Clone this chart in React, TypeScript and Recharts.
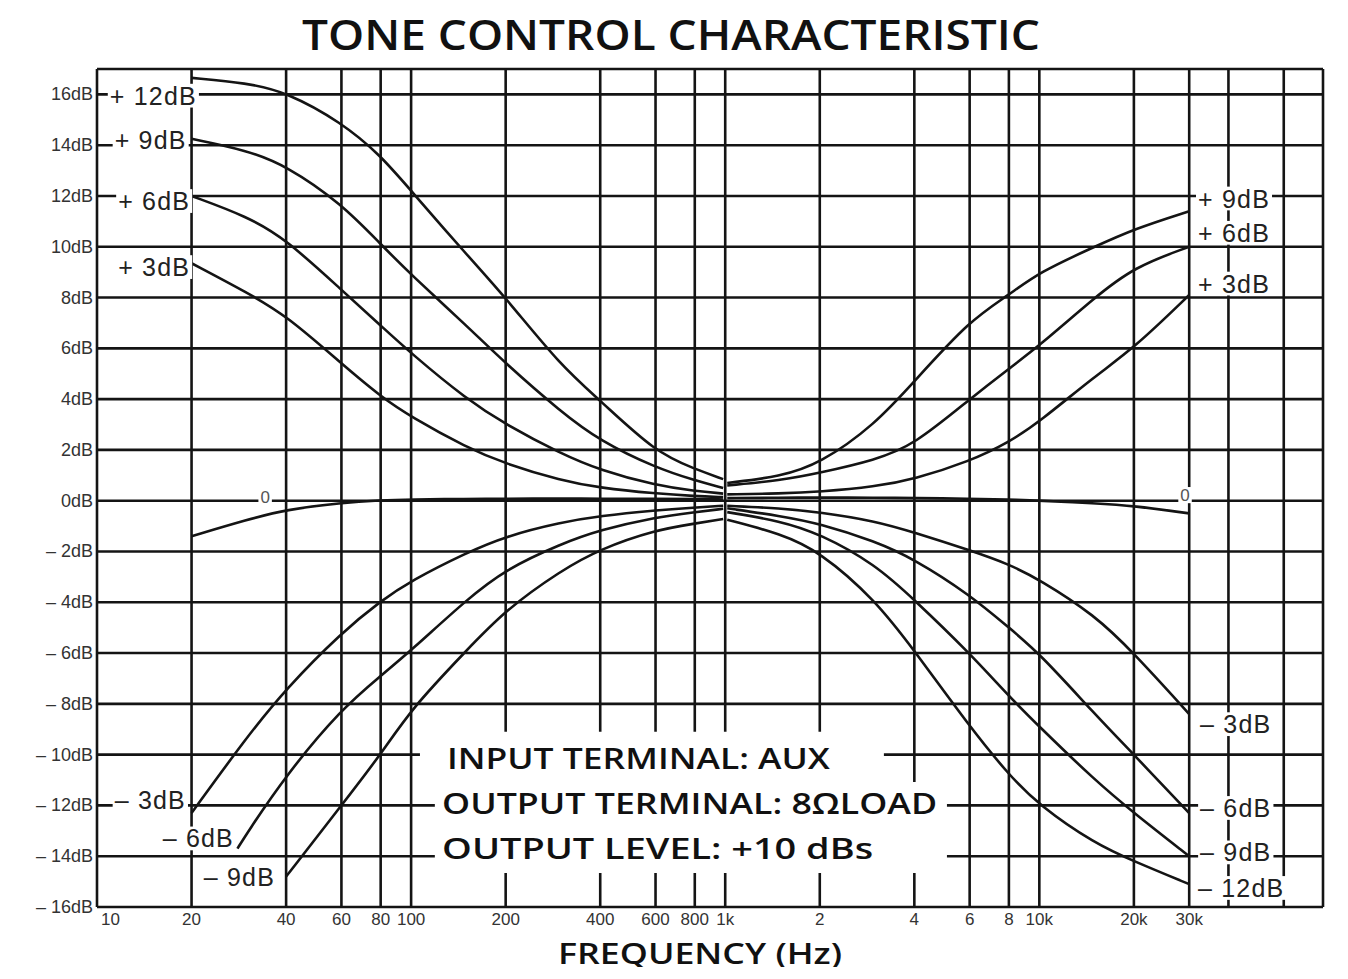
import {
  LineChart,
  Line,
  XAxis,
  YAxis,
  CartesianGrid,
  ReferenceArea,
  ReferenceDot,
} from "recharts";

// axis ticks (log frequency, dB)
const xTicks = [
  10, 20, 40, 60, 80, 100, 200, 400, 600, 800, 1000, 2000, 4000, 6000, 8000,
  10000, 20000, 30000, 40000, 60000, 80000,
];
const xTickLabels = [
  "10", "20", "40", "60", "80", "100", "200", "400", "600", "800", "1k",
  "2", "4", "6", "8", "10k", "20k", "30k", "", "", "",
];
const yTicks = [-16, -14, -12, -10, -8, -6, -4, -2, 0, 2, 4, 6, 8, 10, 12, 14, 16, 17];
const yTickLabels = [
  "– 16dB", "– 14dB", "– 12dB", "– 10dB", "– 8dB", "– 6dB", "– 4dB", "– 2dB",
  "0dB", "2dB", "4dB", "6dB", "8dB", "10dB", "12dB", "14dB", "16dB", "",
];

// bass control curves (20 Hz .. 1 kHz)
const bassFreq = [20, 30, 40, 60, 80, 100, 150, 200, 300, 400, 600, 800, 985];
const bassPlus12 = [16.65, 16.45, 16.1, 14.9, 13.6, 12.2, 9.7, 8.0, 5.3, 3.95, 1.9, 1.25, 0.85];
const bassPlus9 = [14.25, 13.8, 13.2, 11.7, 10.1, 8.9, 6.9, 5.4, 3.5, 2.35, 1.3, 0.8, 0.5];
const bassPlus6 = [12.0, 11.2, 10.3, 8.3, 6.9, 5.8, 4.0, 3.0, 1.85, 1.2, 0.6, 0.38, 0.28];
const bassPlus3 = [9.35, 8.2, 7.3, 5.4, 4.1, 3.3, 2.1, 1.45, 0.8, 0.5, 0.28, 0.18, 0.14];
const bassFlat = [-1.4, -0.75, -0.35, -0.08, 0.02, 0.05, 0.07, 0.08, 0.08, 0.08, 0.07, 0.06, 0.05];
const bassMinus3 = [-12.3, -9.3, -7.4, -5.2, -3.95, -3.15, -2.05, -1.4, -0.85, -0.6, -0.38, -0.27, -0.2];
const bassMinus6Freq = [28, 30, 40, 60, 80, 100, 150, 200, 300, 400, 600, 800, 985];
const bassMinus6 = [-13.7, -13.1, -10.8, -8.2, -6.9, -5.9, -3.9, -2.7, -1.7, -1.15, -0.65, -0.45, -0.32];
const bassMinus9Freq = [40, 60, 80, 100, 150, 200, 300, 400, 600, 800, 985];
const bassMinus9 = [-14.8, -12.0, -10.0, -8.2, -5.9, -4.3, -2.75, -1.9, -1.15, -0.9, -0.72];

// treble control curves (1 kHz .. 30 kHz)
const trebleFreq = [1015, 1500, 2000, 3000, 4000, 6000, 8000, 10000, 15000, 20000, 30000];
const treblePlus9 = [0.7, 0.95, 1.45, 3.0, 4.7, 7.1, 8.1, 9.0, 10.0, 10.7, 11.4];
const treblePlus6 = [0.6, 0.8, 1.1, 1.6, 2.2, 4.0, 5.2, 6.1, 8.0, 9.2, 10.0];
const treblePlus3 = [0.25, 0.28, 0.35, 0.55, 0.85, 1.55, 2.3, 3.1, 4.9, 6.0, 8.1];
const trebleFlat = [0.1, 0.12, 0.12, 0.12, 0.1, 0.08, 0.05, 0.0, -0.1, -0.2, -0.5];
const trebleMinus3 = [-0.2, -0.3, -0.45, -0.8, -1.25, -1.95, -2.5, -3.1, -4.5, -6.0, -8.4];
const trebleMinus6 = [-0.3, -0.6, -0.9, -1.6, -2.3, -3.7, -5.0, -6.0, -8.4, -10.0, -12.3];
const trebleMinus9 = [-0.45, -0.8, -1.3, -2.5, -3.9, -6.0, -7.7, -8.9, -11.0, -12.3, -14.0];
const trebleMinus12 = [-0.75, -1.3, -2.0, -3.9, -5.9, -8.9, -10.8, -12.0, -13.5, -14.2, -15.1];

const pts = (fs: number[], vs: number[]) => fs.map((f, i) => ({ f, db: vs[i] }));

const curves = [
  pts(bassFreq, bassPlus12),
  pts(bassFreq, bassPlus9),
  pts(bassFreq, bassPlus6),
  pts(bassFreq, bassPlus3),
  pts(bassFreq, bassFlat),
  pts(bassFreq, bassMinus3),
  pts(bassMinus6Freq, bassMinus6),
  pts(bassMinus9Freq, bassMinus9),
  pts(trebleFreq, treblePlus9),
  pts(trebleFreq, treblePlus6),
  pts(trebleFreq, treblePlus3),
  pts(trebleFreq, trebleFlat),
  pts(trebleFreq, trebleMinus3),
  pts(trebleFreq, trebleMinus6),
  pts(trebleFreq, trebleMinus9),
  pts(trebleFreq, trebleMinus12),
];

// curve names, anchored in data units next to the curve ends
const curveTags = [
  { text: "+ 12dB", f: 20.8, db: 15.95, anchor: "end" },
  { text: "+ 9dB", f: 19.3, db: 14.2, anchor: "end" },
  { text: "+ 6dB", f: 19.8, db: 11.8, anchor: "end" },
  { text: "+ 3dB", f: 19.8, db: 9.2, anchor: "end" },
  { text: "– 3dB", f: 19.2, db: -11.8, anchor: "end" },
  { text: "– 6dB", f: 27.3, db: -13.3, anchor: "end" },
  { text: "– 9dB", f: 36.9, db: -14.8, anchor: "end" },
  { text: "+ 9dB", f: 32000, db: 11.9, anchor: "start" },
  { text: "+ 6dB", f: 32000, db: 10.55, anchor: "start" },
  { text: "+ 3dB", f: 32000, db: 8.55, anchor: "start" },
  { text: "– 3dB", f: 32500, db: -8.8, anchor: "start" },
  { text: "– 6dB", f: 32500, db: -12.1, anchor: "start" },
  { text: "– 9dB", f: 32500, db: -13.85, anchor: "start" },
  { text: "– 12dB", f: 32000, db: -15.25, anchor: "start" },
];
const zeroTags = [
  { text: "0", f: 34.3, db: 0.15 },
  { text: "0", f: 29100, db: 0.22 },
];
const notes = [
  { text: "INPUT  TERMINAL:  AUX", f: 130, db: -10.15, len: 383 },
  { text: "OUTPUT  TERMINAL:  8ΩLOAD", f: 125.5, db: -11.95, len: 495 },
  { text: "OUTPUT  LEVEL:  +10  dBs", f: 125.5, db: -13.72, len: 431 },
];

const FONT = "'Liberation Sans', Arial, sans-serif";
const HEAD_FONT = "'Open Sans', 'Liberation Sans', sans-serif";
const INK = "#141414";

// rough advance widths (em) of Liberation Sans, for the blank behind a tag
const glyphW: Record<string, number> = { "+": 0.584, " ": 0.278, "–": 0.556, B: 0.667 };
const textWidth = (t: string, size: number, spacing: number) =>
  [...t].reduce((s, c) => s + (glyphW[c] ?? 0.556) * size + spacing, 0);

const FreqTick = ({ x, y, payload }: any) => {
  const i = xTicks.indexOf(payload.value);
  const first = payload.value === 10;
  return (
    <text
      x={first ? x + 4 : x}
      y={y}
      dy={14}
      textAnchor={first ? "start" : "middle"}
      fontSize={17}
      fontFamily={FONT}
      fill="#333"
    >
      {xTickLabels[i] ?? ""}
    </text>
  );
};

const DbTick = ({ x, y, payload }: any) => (
  <text x={x} y={y} dy={6} textAnchor="end" fontSize={18} fontFamily={FONT} fill="#333">
    {yTickLabels[yTicks.indexOf(payload.value)] ?? ""}
  </text>
);

const tagLabel =
  (text: string, anchor: string, size: number, spacing: number, blank: boolean, extra: any = {}) =>
  (props: any) => {
    const vb = props.viewBox || {};
    const x = (vb.x ?? 0) + (vb.width ?? 0) / 2;
    const y = (vb.y ?? 0) + (vb.height ?? 0) / 2;
    const w = textWidth(text, size, spacing) + 4;
    const h = size * 0.95;
    const rx = anchor === "end" ? x - w + 2 : anchor === "middle" ? x - w / 2 : x - 2;
    return (
      <g>
        {blank && <rect x={rx} y={y - h / 2} width={w} height={h} fill="#fff" />}
        <text
          x={x}
          y={y}
          dy="0.36em"
          textAnchor={anchor}
          fontSize={size}
          fontFamily={FONT}
          fill="#222"
          letterSpacing={spacing}
          {...extra}
        >
          {text}
        </text>
      </g>
    );
  };

export default function App() {
  // pulled over the body margin so the heading glyph boxes stay inside the svg
  return (
    <div style={{ margin: "-8px 0 -8px -8px" }}>
      <LineChart
        width={1340}
        height={975}
        margin={{ top: 69, right: 17, bottom: 38, left: 17 }}
      >
        <CartesianGrid stroke={INK} strokeWidth={2.6} fill="none" />
        <XAxis
          dataKey="f"
          type="number"
          scale="log"
          domain={[10, 80000]}
          ticks={xTicks}
          allowDataOverflow
          axisLine={false}
          tickLine={false}
          tickSize={0}
          tickMargin={4}
          height={30}
          interval={0}
          tick={<FreqTick />}
        />
        <YAxis
          type="number"
          domain={[-16, 17]}
          ticks={yTicks}
          allowDataOverflow
          axisLine={false}
          tickLine={false}
          tickSize={0}
          tickMargin={4}
          width={80}
          interval={0}
          tick={<DbTick />}
        />
        {/* blank panel behind the test conditions */}
        <ReferenceArea x1={106.7} x2={3200} y1={-9.1} y2={-11.08} fill="#fff" fillOpacity={1} stroke="none" />
        <ReferenceArea x1={119} x2={5080} y1={-11.08} y2={-14.66} fill="#fff" fillOpacity={1} stroke="none" />
        {curves.map((d, i) => (
          <Line
            key={i}
            data={d}
            dataKey="db"
            type="basis"
            stroke={INK}
            strokeWidth={2.6}
            dot={false}
            activeDot={false}
            isAnimationActive={false}
          />
        ))}
        {curveTags.map((t, i) => (
          <ReferenceDot
            key={"c" + i}
            x={t.f}
            y={t.db}
            r={0}
            fill="none"
            stroke="none"
            label={tagLabel(t.text, t.anchor, 25, 1.2, true)}
          />
        ))}
        {zeroTags.map((t, i) => (
          <ReferenceDot
            key={"z" + i}
            x={t.f}
            y={t.db}
            r={0}
            fill="none"
            stroke="none"
            label={tagLabel(t.text, "middle", 17, 0, true, { fill: "#555" })}
          />
        ))}
        {notes.map((t, i) => (
          <ReferenceDot
            key={"n" + i}
            x={t.f}
            y={t.db}
            r={0}
            fill="none"
            stroke="none"
            label={tagLabel(t.text, "start", 28, 0, false, {
              fontWeight: 600,
              fontFamily: HEAD_FONT,
              fill: "#111",
              textLength: t.len,
              lengthAdjust: "spacingAndGlyphs",
            })}
          />
        ))}
        <text
          x={671}
          y={50}
          textAnchor="middle"
          fontSize={42}
          fontWeight={600}
          fontFamily={HEAD_FONT}
          fill="#111"
          textLength={738}
          lengthAdjust="spacingAndGlyphs"
        >
          TONE CONTROL CHARACTERISTIC
        </text>
        <text
          x={700}
          y={964}
          textAnchor="middle"
          fontSize={28}
          fontWeight={600}
          fontFamily={HEAD_FONT}
          fill="#111"
          textLength={284}
          lengthAdjust="spacingAndGlyphs"
        >
          FREQUENCY  (Hz)
        </text>
      </LineChart>
    </div>
  );
}
